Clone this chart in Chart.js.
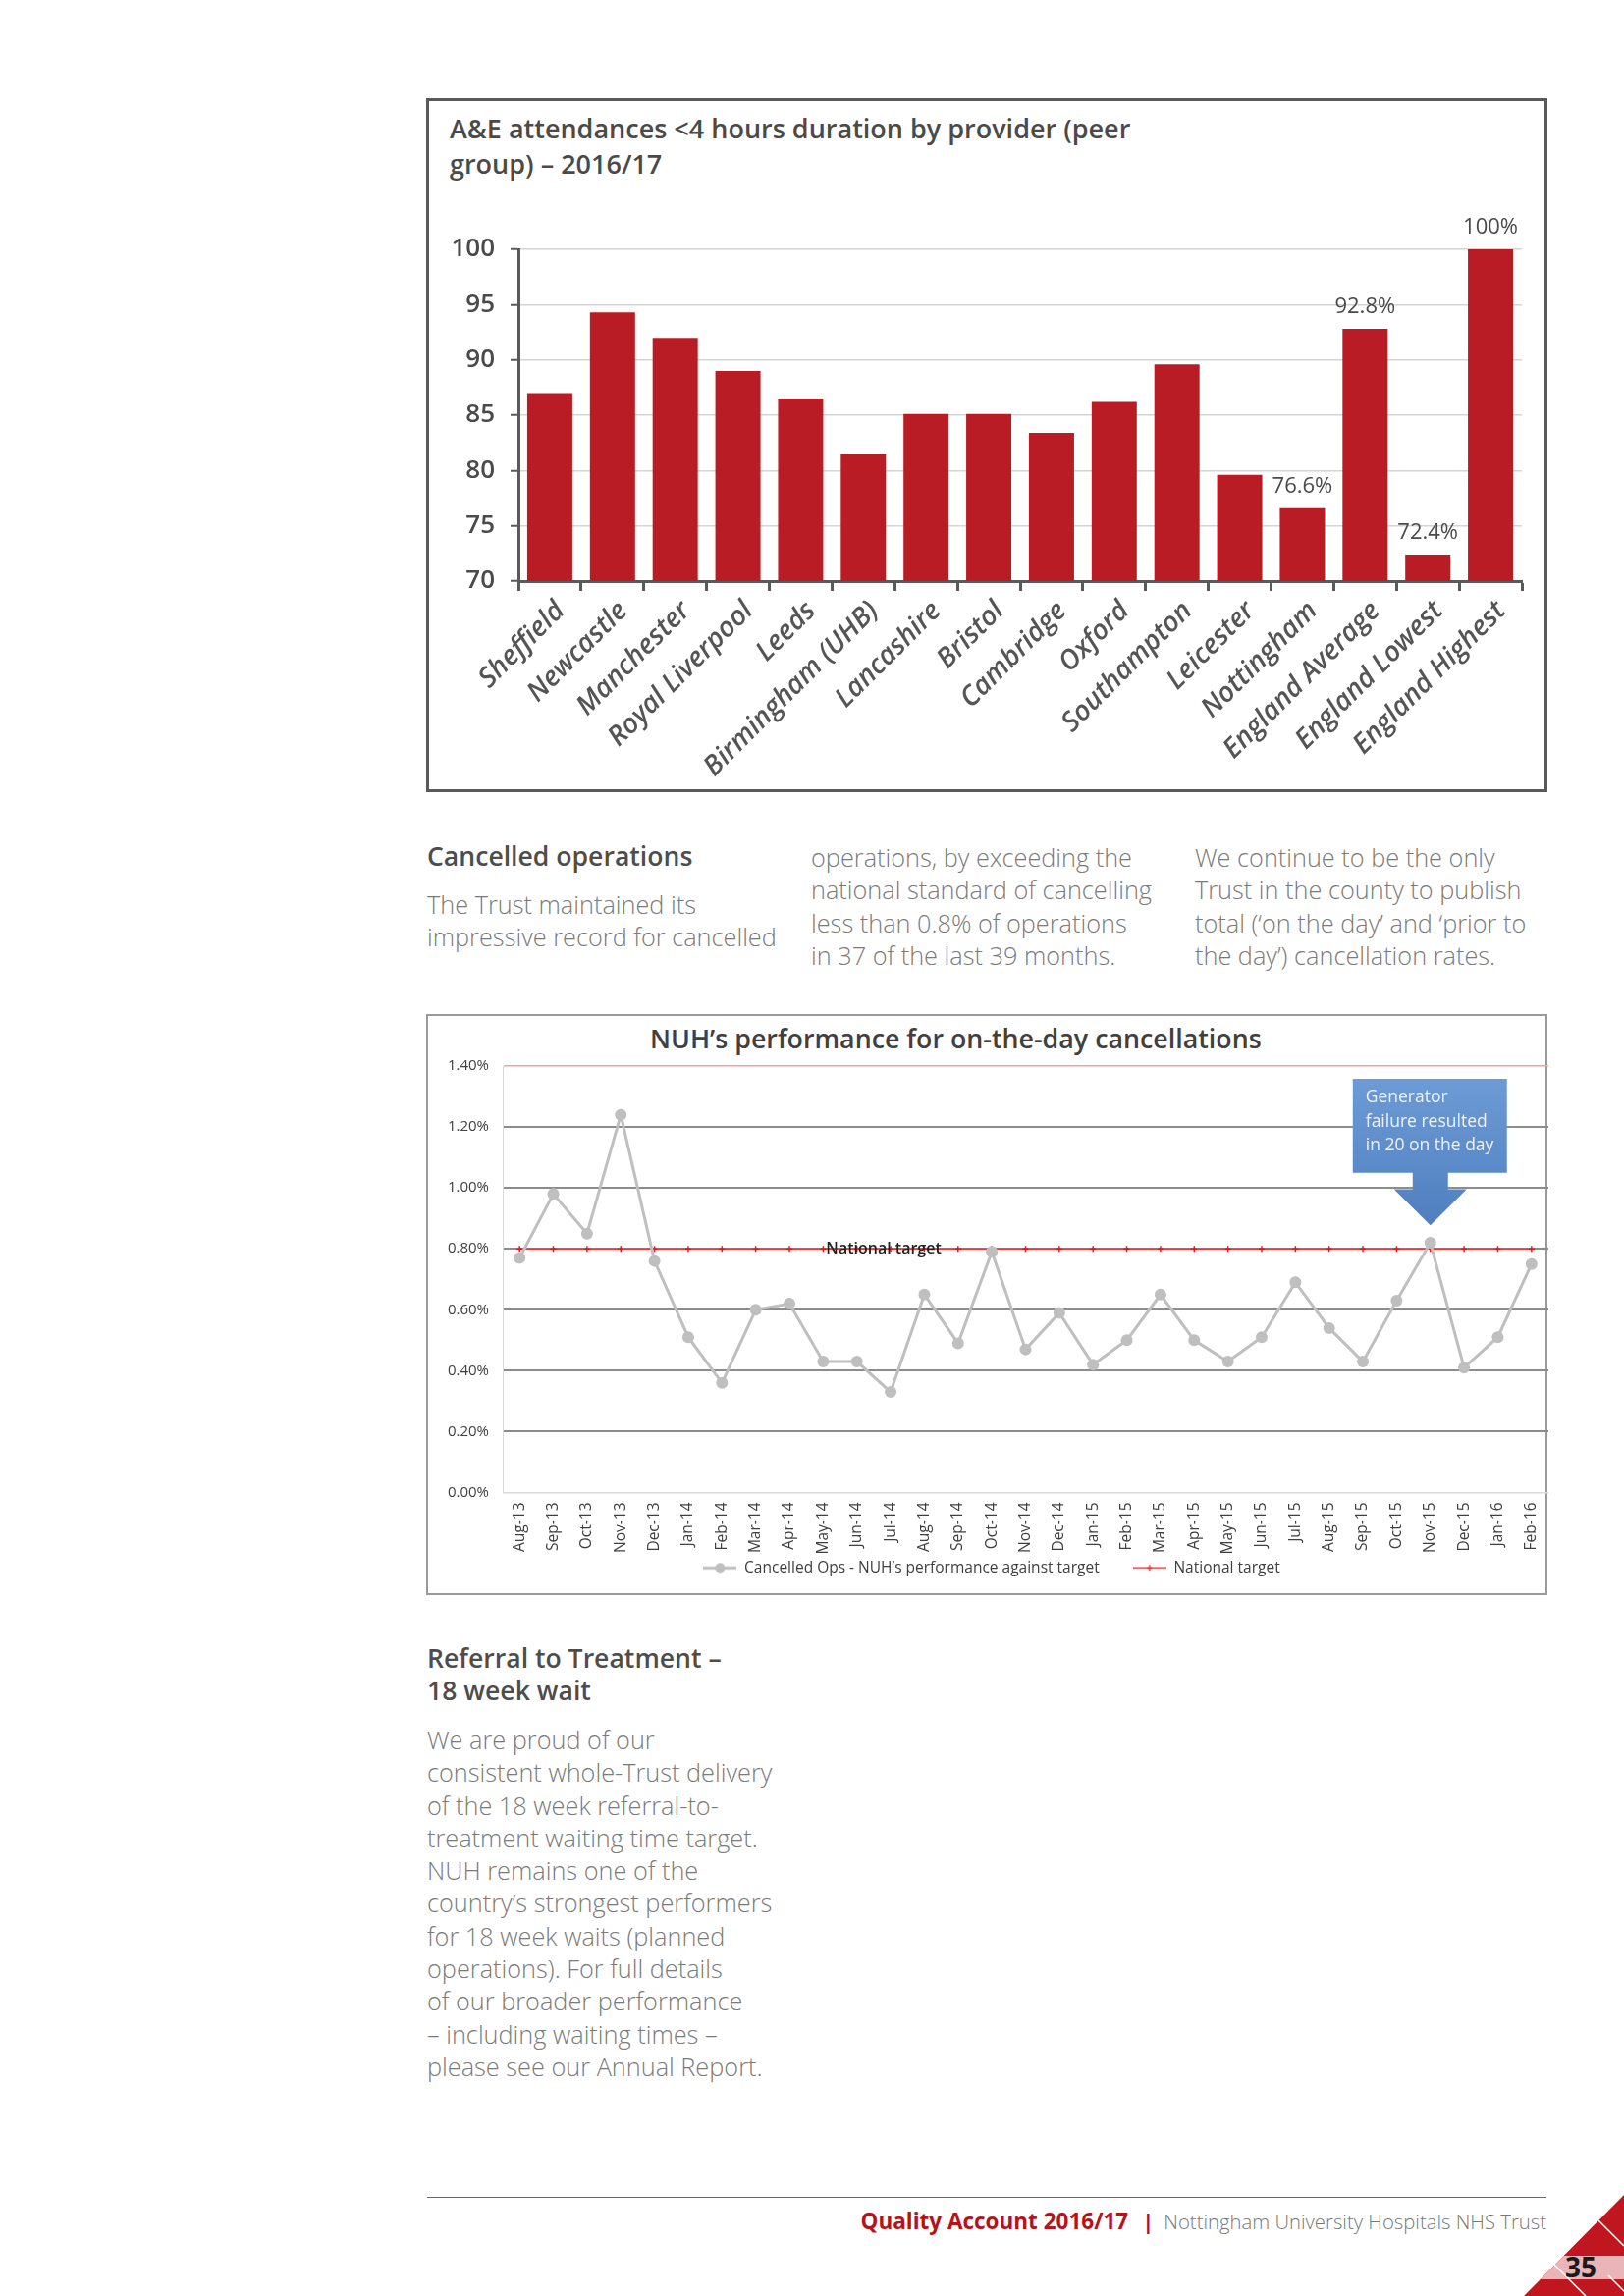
<!DOCTYPE html>
<html lang="en">
<head>
<meta charset="UTF-8">
<title>Quality Account 2016/17 - page 35</title>
<script src="https://cdn.jsdelivr.net/npm/chart.js"></script>
<style>
  body { margin: 0; width: 1654px; height: 2339px; position: relative; overflow: hidden; background: #fff; font-family: 'Open Sans', sans-serif; }
  .abs { position: absolute; }
  #frame1 { left: 434px; top: 100px; width: 1142px; height: 707px; border: 3px solid #5a5a5a; box-sizing: border-box; }
  #title1 { left: 458px; top: 113px; font-size: 27px; font-weight: 600; color: #4a4a4a; line-height: 36px; }
  #wrap1 { left: 437px; top: 195px; width: 1136px; height: 609px; }
  #frame2 { left: 434px; top: 1033px; width: 1142px; height: 592px; border: 2px solid #9a9a9a; box-sizing: border-box; }
  #title2 { left: 662px; top: 1040px; font-size: 26.8px; font-weight: 600; color: #404040; line-height: 36px; white-space: nowrap; }
  #wrap2 { left: 437px; top: 1063px; width: 1146px; height: 558px; }
  .head { font-size: 26.6px; font-weight: 600; color: #4d4d4d; line-height: 33px; white-space: nowrap; }
  .body { font-size: 25.3px; font-weight: 300; color: #7a7a7a; line-height: 33.3px; white-space: nowrap; }
  #footline { left: 435px; top: 2238px; width: 1140px; height: 0; border-top: 1.5px solid #666; }
  #foot { right: 79px; top: 2246px; line-height: 32px; white-space: nowrap; }
  #foot .qa { color: #b5121b; font-weight: 700; font-size: 22.5px; }
  #foot .bar { color: #b5121b; font-weight: 700; font-size: 22px; margin: 0 10px 0 14px; }
  #foot .org { color: #777; font-weight: 300; font-size: 20.3px; }
</style>
</head>
<body>

<div class="abs" id="frame1"></div>
<div class="abs" id="title1">A&amp;E attendances &lt;4 hours duration by provider (peer<br>group) – 2016/17</div>
<div class="abs" id="wrap1"><canvas id="aeChart"></canvas></div>

<div class="abs head" style="left:435px; top:856px;">Cancelled operations</div>
<div class="abs body" style="left:435px; top:905px;">The Trust maintained its<br>impressive record for cancelled</div>
<div class="abs body" style="left:826px; top:857px;">operations, by exceeding the<br>national standard of cancelling<br>less than 0.8% of operations<br>in 37 of the last 39 months.</div>
<div class="abs body" style="left:1217px; top:857px;">We continue to be the only<br>Trust in the county to publish<br>total (‘on the day’ and ‘prior to<br>the day’) cancellation rates.</div>

<div class="abs" id="frame2"></div>
<div class="abs" id="title2">NUH’s performance for on-the-day cancellations</div>
<div class="abs" id="wrap2"><canvas id="cancelChart"></canvas></div>

<div class="abs head" style="left:435px; top:1673px;">Referral to Treatment –<br>18 week wait</div>
<div class="abs body" style="left:435px; top:1756px;">We are proud of our<br>consistent whole-Trust delivery<br>of the 18 week referral-to-<br>treatment waiting time target.<br>NUH remains one of the<br>country’s strongest performers<br>for 18 week waits (planned<br>operations). For full details<br>of our broader performance<br>– including waiting times –<br>please see our Annual Report.</div>

<div class="abs" id="footline"></div>
<div class="abs" id="foot"><span class="qa">Quality Account 2016/17</span><span class="bar">|</span><span class="org">Nottingham University Hospitals NHS Trust</span></div>

<svg class="abs" style="left:1540px; top:2230px;" width="114" height="109" viewBox="1540 2230 114 109">
  <polygon points="1654,2236 1654,2339 1552,2339" fill="#c0161f"/>
  <polygon points="1592.6,2298 1654,2298 1654,2322 1568.8,2322" fill="#e9b5b9"/>
  <line x1="1628" y1="2262" x2="1654" y2="2288" stroke="#fff" stroke-width="1.5"/>
  <line x1="1583" y1="2307" x2="1615" y2="2339" stroke="#fff" stroke-width="1.5"/>
  <line x1="1638" y1="2318" x2="1654" y2="2334" stroke="#fff" stroke-width="1.5"/>
  <text x="1610" y="2320" font-family="Open Sans" font-weight="700" font-size="28" fill="#1a1a1a" text-anchor="middle">35</text>
</svg>

<script>
// ---- A&E chart data ----
const providers = ['Sheffield', 'Newcastle', 'Manchester', 'Royal Liverpool', 'Leeds', 'Birmingham (UHB)',
  'Lancashire', 'Bristol', 'Cambridge', 'Oxford', 'Southampton', 'Leicester', 'Nottingham',
  'England Average', 'England Lowest', 'England Highest'];
const within4hours = [87.0, 94.3, 92.0, 89.0, 86.5, 81.5, 85.1, 85.1, 83.4, 86.2, 89.6, 79.6, 76.6, 92.8, 72.4, 100];
const barNotes = ['', '', '', '', '', '', '', '', '', '', '', '', '76.6%', '92.8%', '72.4%', '100%'];

// ---- cancellations chart data ----
const months = ['Aug-13', 'Sep-13', 'Oct-13', 'Nov-13', 'Dec-13', 'Jan-14', 'Feb-14', 'Mar-14', 'Apr-14',
  'May-14', 'Jun-14', 'Jul-14', 'Aug-14', 'Sep-14', 'Oct-14', 'Nov-14', 'Dec-14', 'Jan-15', 'Feb-15',
  'Mar-15', 'Apr-15', 'May-15', 'Jun-15', 'Jul-15', 'Aug-15', 'Sep-15', 'Oct-15', 'Nov-15', 'Dec-15',
  'Jan-16', 'Feb-16'];
const cancelledOps = [0.77, 0.98, 0.85, 1.24, 0.76, 0.51, 0.36, 0.60, 0.62, 0.43, 0.43, 0.33, 0.65, 0.49,
  0.79, 0.47, 0.59, 0.42, 0.50, 0.65, 0.50, 0.43, 0.51, 0.69, 0.54, 0.43, 0.63, 0.82, 0.41, 0.51, 0.75];
const nationalTarget = [0.8, 0.8, 0.8, 0.8, 0.8, 0.8, 0.8, 0.8, 0.8, 0.8, 0.8, 0.8, 0.8, 0.8, 0.8, 0.8,
  0.8, 0.8, 0.8, 0.8, 0.8, 0.8, 0.8, 0.8, 0.8, 0.8, 0.8, 0.8, 0.8, 0.8, 0.8];
const targetLabelMonth = 'May-14';
const calloutMonth = 'Nov-15';
const calloutText = ['Generator', 'failure resulted', 'in 20 on the day'];

const darkAxis = '#5a5a5a';

// labels above the last few bars
const barNotesPlugin = {
  id: 'barNotes',
  afterDatasetsDraw(chart) {
    const ctx = chart.ctx;
    const bars = chart.getDatasetMeta(0).data;
    ctx.save();
    ctx.font = '22px "Open Sans"';
    ctx.fillStyle = '#4a4a4a';
    ctx.textAlign = 'center';
    ctx.textBaseline = 'middle';
    bars.forEach((bar, i) => {
      if (barNotes[i]) ctx.fillText(barNotes[i], bar.x, bar.y - 22);
    });
    ctx.restore();
  }
};

new Chart(document.getElementById('aeChart'), {
  type: 'bar',
  data: {
    labels: providers,
    datasets: [{
      data: within4hours,
      backgroundColor: '#b91c24',
      barPercentage: 0.72,
      categoryPercentage: 1
    }]
  },
  options: {
    responsive: true,
    maintainAspectRatio: false,
    animation: false,
    layout: { padding: { left: 0, right: 23, top: 59, bottom: 12 } },
    plugins: { legend: { display: false }, tooltip: { enabled: false } },
    scales: {
      x: {
        grid: { drawOnChartArea: false, tickLength: 10, tickColor: darkAxis, tickWidth: 3, offset: true },
        border: { color: darkAxis, width: 3 },
        ticks: {
          autoSkip: false, minRotation: 45, maxRotation: 45, padding: 4, labelOffset: 11, color: '#555',
          font: { family: 'Open Sans', size: 28, style: 'italic', weight: '600' }
        },
        afterFit(scale) { scale.height = 200; }
      },
      y: {
        min: 70, max: 100,
        grid: { color: '#d4d4d4', lineWidth: 1.5, tickLength: 8, tickColor: darkAxis, tickWidth: 2 },
        border: { color: darkAxis, width: 3 },
        ticks: { stepSize: 5, padding: 16, color: '#4a4a4a', font: { family: 'Open Sans', size: 26, weight: '600' } },
        afterFit(scale) { scale.width = 91; }
      }
    }
  },
  plugins: [barNotesPlugin]
});

// small legend symbols like the spreadsheet ones
function legendIcon(colour, width, marker) {
  const c = document.createElement('canvas');
  c.width = 34; c.height = 14;
  const g = c.getContext('2d');
  g.strokeStyle = colour;
  g.lineWidth = width;
  g.beginPath(); g.moveTo(0, 7); g.lineTo(34, 7); g.stroke();
  if (marker === 'circle') {
    g.fillStyle = colour;
    g.beginPath(); g.arc(17, 7, 5, 0, Math.PI * 2); g.fill();
  } else {
    g.lineWidth = 1.5;
    g.beginPath(); g.moveTo(17, 4); g.lineTo(17, 10); g.moveTo(14, 7); g.lineTo(20, 7); g.stroke();
  }
  return c;
}
const icons = [legendIcon('#bfbfbf', 3, 'circle'), legendIcon('#ee3a3a', 1.5, 'cross')];

const annotations = {
  id: 'annotations',
  afterDatasetsDraw(chart) {
    const ctx = chart.ctx;
    const x = chart.scales.x, y = chart.scales.y;
    ctx.save();
    // "National target" text on the line
    ctx.font = '600 16px "Open Sans"';
    ctx.fillStyle = '#222';
    ctx.textAlign = 'left';
    ctx.textBaseline = 'middle';
    ctx.fillText('National target', x.getPixelForValue(months.indexOf(targetLabelMonth)) + 3, y.getPixelForValue(0.8));

    // callout arrow pointing at the generator failure month
    const cx = x.getPixelForValue(months.indexOf(calloutMonth));
    const top = y.getPixelForValue(1.358), bottom = y.getPixelForValue(1.05);
    const shoulder = y.getPixelForValue(0.996), tip = y.getPixelForValue(0.877);
    const grad = ctx.createLinearGradient(0, top, 0, tip);
    grad.addColorStop(0, '#6d9bd6');
    grad.addColorStop(1, '#4f7fbf');
    ctx.fillStyle = grad;
    ctx.beginPath();
    ctx.moveTo(cx - 79, top); ctx.lineTo(cx + 78, top); ctx.lineTo(cx + 78, bottom);
    ctx.lineTo(cx + 18, bottom); ctx.lineTo(cx + 18, shoulder); ctx.lineTo(cx + 37, shoulder);
    ctx.lineTo(cx, tip); ctx.lineTo(cx - 37, shoulder); ctx.lineTo(cx - 18, shoulder);
    ctx.lineTo(cx - 18, bottom); ctx.lineTo(cx - 79, bottom); ctx.closePath();
    ctx.fill();
    ctx.font = '17.5px "Open Sans"';
    ctx.fillStyle = '#eef3fb';
    calloutText.forEach((t, i) => ctx.fillText(t, cx - 66, top + 19 + i * 24.5));
    ctx.restore();
  }
};

new Chart(document.getElementById('cancelChart'), {
  type: 'line',
  data: {
    labels: months,
    datasets: [{
      label: 'Cancelled Ops - NUH’s performance against target',
      data: cancelledOps,
      borderColor: '#bfbfbf',
      backgroundColor: '#bfbfbf',
      borderWidth: 3,
      pointRadius: 6,
      pointBorderWidth: 0,
      tension: 0
    }, {
      label: 'National target',
      data: nationalTarget,
      borderColor: '#ee3a3a',
      borderWidth: 1.5,
      pointStyle: 'cross',
      pointRadius: 3,
      pointBorderColor: '#e8151b',
      pointBorderWidth: 1.5
    }]
  },
  options: {
    responsive: true,
    maintainAspectRatio: false,
    animation: false,
    layout: { padding: { left: 0, right: 0, top: 9, bottom: 6 } },
    plugins: {
      tooltip: { enabled: false },
      legend: {
        position: 'bottom',
        labels: {
          usePointStyle: true,
          pointStyleWidth: 34,
          padding: 3,
          color: '#404040',
          font: { family: 'Open Sans', size: 15.5 },
          generateLabels: (chart) => chart.data.datasets.map((ds, i) => ({
            text: i === 0 ? ds.label + '\u2002\u2002\u2002\u2002' : ds.label,
            pointStyle: icons[i], fontColor: '#404040', hidden: false,
            datasetIndex: i, lineWidth: 0, strokeStyle: 'transparent', fillStyle: 'transparent'
          }))
        }
      }
    },
    scales: {
      x: {
        offset: true,
        grid: { display: false },
        border: { display: false },
        ticks: { autoSkip: false, minRotation: 90, maxRotation: 90, padding: 2, color: '#404040', font: { family: 'Open Sans', size: 15.5 } },
        afterFit(scale) { scale.height = 66; }
      },
      y: {
        min: 0, max: 1.4,
        grid: {
          drawTicks: false,
          color: (c) => Math.abs(c.tick.value - 1.4) < 1e-6 ? '#f2a0a0' : (c.tick.value === 0 ? '#d9d9d9' : '#8c8c8c'),
          lineWidth: (c) => (c.tick.value === 0 || Math.abs(c.tick.value - 1.4) < 1e-6) ? 1.5 : 2
        },
        border: { color: '#d9d9d9', width: 1 },
        ticks: { stepSize: 0.2, padding: 14, color: '#404040', font: { family: 'Open Sans', size: 15 },
          callback: (v) => v.toFixed(2) + '%' },
        afterFit(scale) { scale.width = 75; }
      }
    }
  },
  plugins: [annotations]
});
</script>
</body>
</html>
